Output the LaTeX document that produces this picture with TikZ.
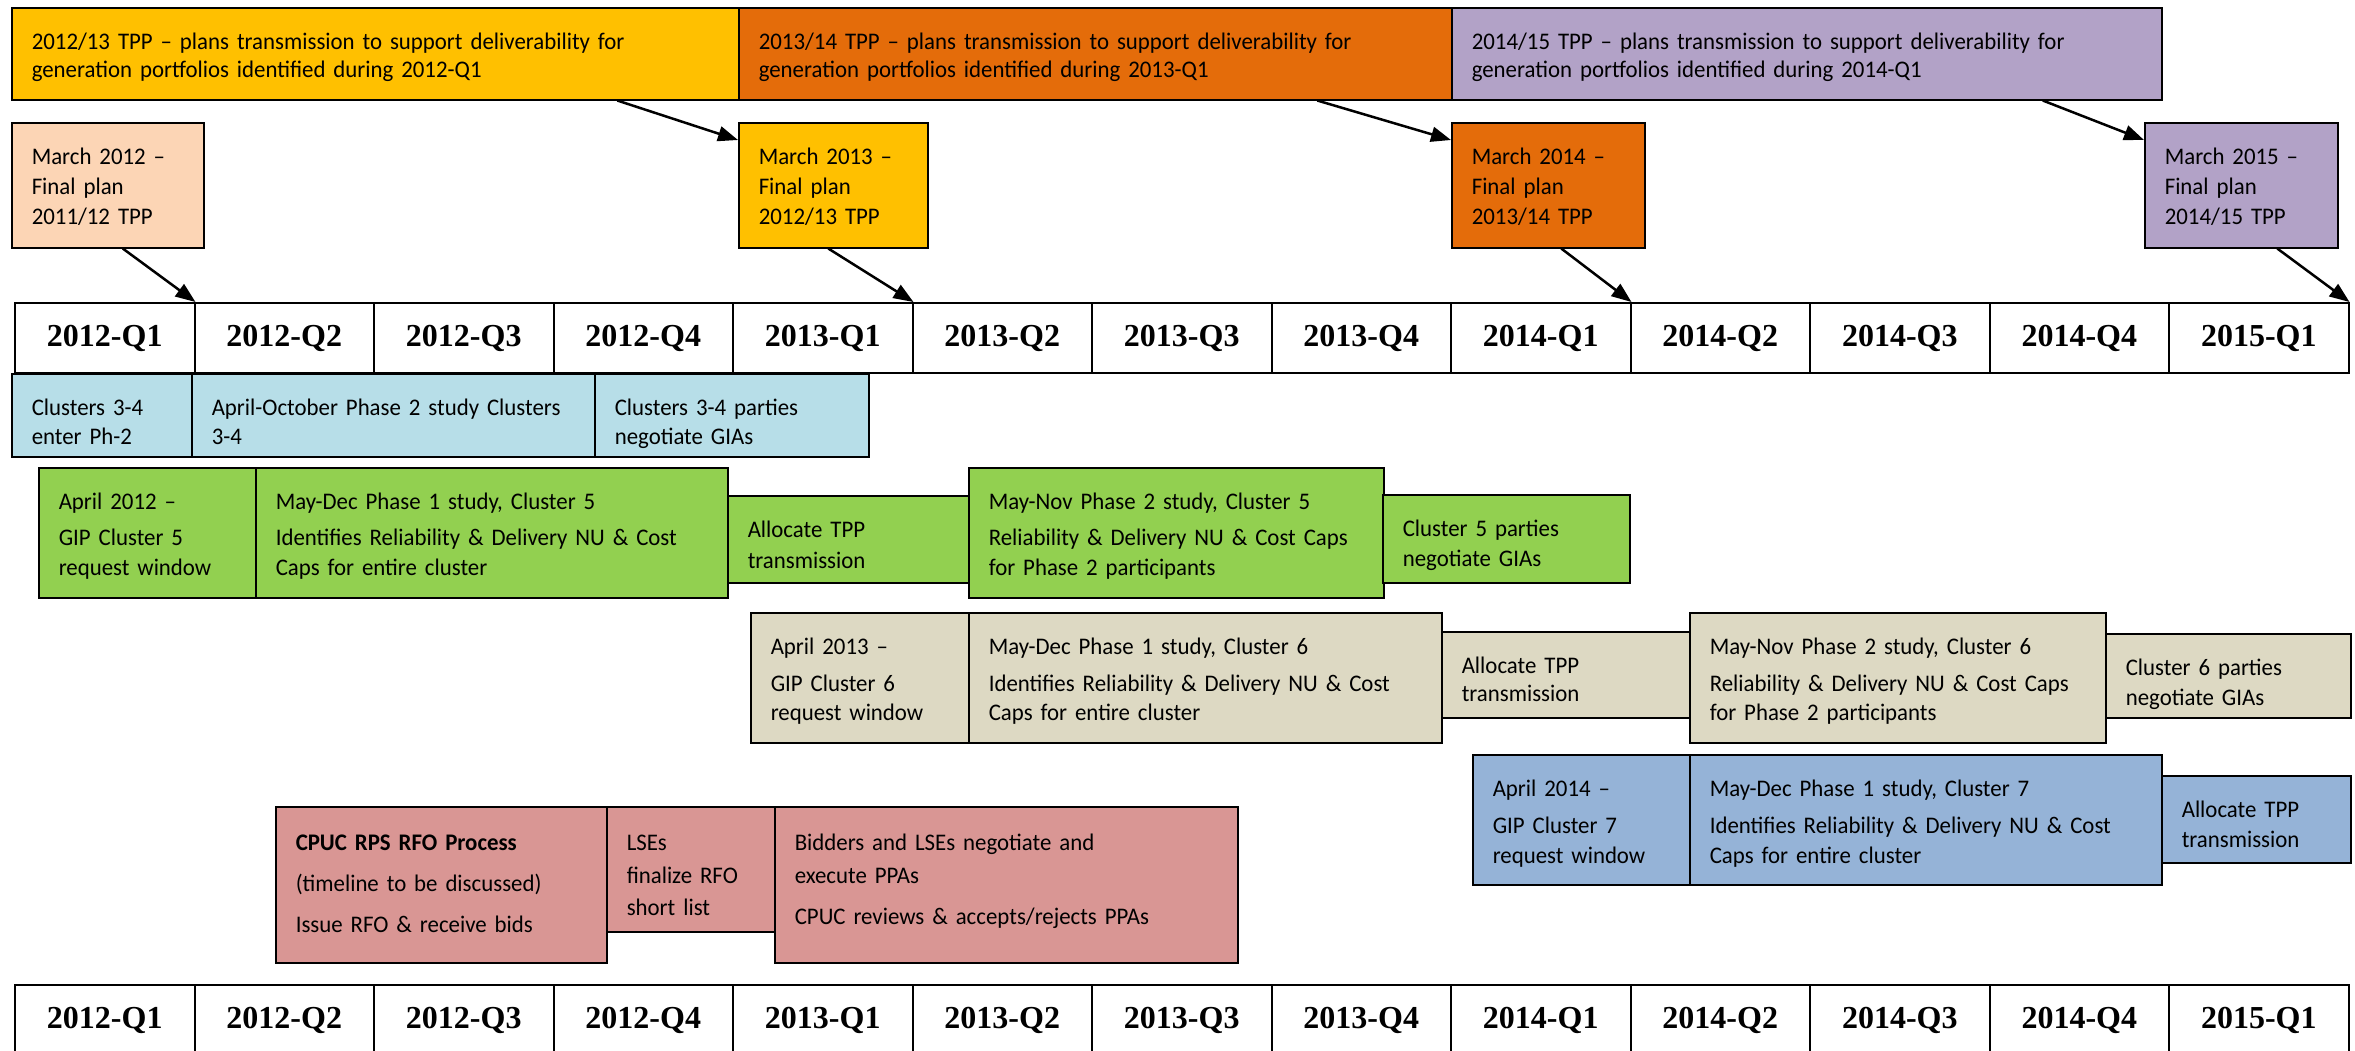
\documentclass[tikz,border=0pt]{standalone}
\usepackage{fontspec}
\setmainfont{Carlito}[FakeStretch=0.96]
\newfontfamily\qfamily{Liberation Serif}
\usetikzlibrary{arrows.meta}

\definecolor{tppyellow}{HTML}{FFC000}
\definecolor{tpporange}{HTML}{E46C0A}
\definecolor{tpppurple}{HTML}{B2A2C7}
\definecolor{tpppeach}{HTML}{FCD5B5}
\definecolor{clblue}{HTML}{B7DEE8}
\definecolor{clgreen}{HTML}{92D050}
\definecolor{cltan}{HTML}{DDD9C3}
\definecolor{clsteel}{HTML}{95B3D7}
\definecolor{rfopink}{HTML}{D99694}

\tikzset{
  box/.style={draw=black, line width=1.5pt, inner xsep=20pt, inner ysep=0pt,
    align=left, anchor=north west, text height=42pt,
    font=\fontsize{23.8}{30}\selectfont},
  rfo/.style={box, fill=rfopink, text height=44pt},
  qcell/.style={draw=black, line width=2pt, minimum width=179.5pt,
    minimum height=70pt, inner sep=0pt, anchor=north west,
    font=\qfamily\bfseries\fontsize{32}{36}\selectfont},
  flow/.style={->, line width=2.5pt},
}

\begin{document}
\begin{tikzpicture}[x=1pt, y=-1pt, >={Triangle[length=20pt,width=15pt]}]

  \useasboundingbox (0,0) rectangle (2355,1050);

  % --- TPP cycles ---
  \node[box, fill=tppyellow, text width=687pt, text depth=50pt] (tpp1) at (11,7)
    {2012/13 TPP -- plans transmission to support deliverability for\\[-2pt]generation portfolios identified during 2012-Q1};
  \node[box, fill=tpporange, text width=673pt, text depth=50pt] (tpp2) at (738,7)
    {2013/14 TPP -- plans transmission to support deliverability for\\[-2pt]generation portfolios identified during 2013-Q1};
  \node[box, fill=tpppurple, text width=670pt, text depth=50pt] (tpp3) at (1451,7)
    {2014/15 TPP -- plans transmission to support deliverability for\\[-2pt]generation portfolios identified during 2014-Q1};

  % --- final plans ---
  \node[box, fill=tpppeach, text width=152pt, text depth=83pt] (m12) at (11,122)
    {March 2012 --\\Final plan\\2011/12 TPP};
  \node[box, fill=tppyellow, text width=149pt, text depth=83pt] (m13) at (738,122)
    {March 2013 --\\Final plan\\2012/13 TPP};
  \node[box, fill=tpporange, text width=153pt, text depth=83pt] (m14) at (1451,122)
    {March 2014 --\\Final plan\\2013/14 TPP};
  \node[box, fill=tpppurple, text width=153pt, text depth=83pt] (m15) at (2144,122)
    {March 2015 --\\Final plan\\2014/15 TPP};

  % --- quarters (top and bottom) ---
  \foreach \q [count=\i from 0] in {2012-Q1, 2012-Q2, 2012-Q3, 2012-Q4,
      2013-Q1, 2013-Q2, 2013-Q3, 2013-Q4, 2014-Q1, 2014-Q2, 2014-Q3, 2014-Q4, 2015-Q1} {
    \node[qcell] (t\i) at (14+179.5*\i, 302) {\q};
    \node[qcell] (b\i) at (14+179.5*\i, 984) {\q};
  }

  % arrows to the quarters
  \draw[flow] ([xshift=242pt]tpp1.south) -- ([yshift=-18pt]m13.north west);
  \draw[flow] ([xshift=222pt]tpp2.south) -- ([yshift=-18pt]m14.north west);
  \draw[flow] ([xshift=236pt]tpp3.south) -- ([yshift=-18pt]m15.north west);
  \draw[flow] ([xshift=15pt]m12.south) -- (t0.north east);
  \draw[flow] ([xshift=-5pt]m13.south) -- (t4.north east);
  \draw[flow] ([xshift=13pt]m14.south) -- (t8.north east);
  \draw[flow] ([xshift=36pt]m15.south) -- (t12.north east);

  % --- Clusters 3-4 ---
  \node[box, fill=clblue, text width=140pt, text depth=41pt] (c34a) at (11,373)
    {Clusters 3-4\\[-1pt]enter Ph-2};
  \node[box, fill=clblue, text width=363pt, text depth=41pt] (c34b) at (191,373)
    {April-October Phase 2 study Clusters\\[-1pt]3-4};
  \node[box, fill=clblue, text width=234pt, text depth=41pt] (c34c) at (594,373)
    {Clusters 3-4 parties\\[-1pt]negotiate GIAs};

  % --- Cluster 5 ---
  \node[box, fill=clgreen, text width=177pt, text depth=88pt] (g5a) at (38,467)
    {April 2012 --\\[6pt]GIP Cluster 5\\request window};
  \node[box, fill=clgreen, text width=432pt, text depth=88pt] (g5b) at (255,467)
    {May-Dec Phase 1 study, Cluster 5\\[6pt]Identifies Reliability \& Delivery NU \& Cost\\Caps for entire cluster};
  \node[box, fill=clgreen, text width=201pt, text depth=45pt] (g5c) at (727,495)
    {Allocate TPP\\[1pt]transmission};
  \node[box, fill=clgreen, text width=375pt, text depth=88pt] (g5d) at (968,467)
    {May-Nov Phase 2 study, Cluster 5\\[6pt]Reliability \& Delivery NU \& Cost Caps\\for Phase 2 participants};
  \node[box, fill=clgreen, text width=207pt, text depth=46pt] (g5e) at (1382,494)
    {Cluster 5 parties\\negotiate GIAs};

  % --- Cluster 6 ---
  \node[box, fill=cltan, text width=178pt, text depth=88pt] (b6a) at (750,612)
    {April 2013 --\\[7pt]GIP Cluster 6\\[-1pt]request window};
  \node[box, fill=cltan, text width=433pt, text depth=88pt] (b6b) at (968,612)
    {May-Dec Phase 1 study, Cluster 6\\[7pt]Identifies Reliability \& Delivery NU \& Cost\\[-1pt]Caps for entire cluster};
  \node[box, fill=cltan, text width=208pt, text depth=44pt] (b6c) at (1441,631)
    {Allocate TPP\\[-2pt]transmission};
  \node[box, fill=cltan, text width=376pt, text depth=88pt] (b6d) at (1689,612)
    {May-Nov Phase 2 study, Cluster 6\\[7pt]Reliability \& Delivery NU \& Cost Caps\\[-1pt]for Phase 2 participants};
  \node[box, fill=cltan, text width=205pt, text depth=42pt] (b6e) at (2105,633)
    {Cluster 6 parties\\negotiate GIAs};

  % --- Cluster 7 ---
  \node[box, fill=clsteel, text width=177pt, text depth=88pt] (c7a) at (1472,754)
    {April 2014 --\\[7pt]GIP Cluster 7\\request window};
  \node[box, fill=clsteel, text width=432pt, text depth=88pt] (c7b) at (1689,754)
    {May-Dec Phase 1 study, Cluster 7\\[7pt]Identifies Reliability \& Delivery NU \& Cost\\Caps for entire cluster};
  \node[box, fill=clsteel, text width=149pt, text depth=45pt] (c7c) at (2161,775)
    {Allocate TPP\\transmission};

  % --- CPUC RFO ---
  \node[rfo, text width=291pt, text depth=112pt] (r1) at (275,806)
    {\textbf{CPUC RPS RFO Process}\\[11pt](timeline to be discussed)\\[11pt]Issue RFO \& receive bids};
  \node[rfo, text width=128pt, text depth=81pt] (r2) at (606,806)
    {LSEs\\[3pt]finalize RFO\\[2pt]short list};
  \node[rfo, text width=423pt, text depth=112pt] (r3) at (774,806)
    {Bidders and LSEs negotiate and\\[3pt]execute PPAs\\[11pt]CPUC reviews \& accepts/rejects PPAs};

\end{tikzpicture}
\end{document}
